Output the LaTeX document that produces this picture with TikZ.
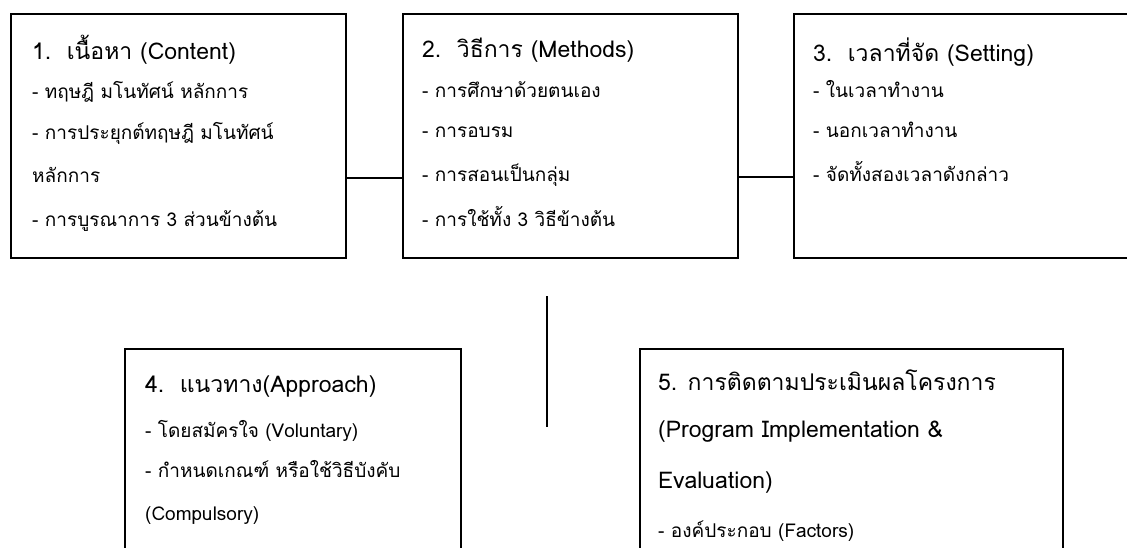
\documentclass[tikz,border=0pt]{standalone}
\usepackage{fontspec}
\newfontfamily\thaifont[Script=Thai]{Loma}
\begin{document}
\begin{tikzpicture}[x=1pt,y=-1pt,
  frame/.style={draw, line width=2pt, rectangle, anchor=north west, inner sep=0pt},
  head/.style={anchor=base west, inner sep=0pt, font=\thaifont\fontsize{23}{28}\selectfont},
  item/.style={anchor=base west, inner sep=0pt, font=\thaifont\fontsize{19}{24}\selectfont},
  link/.style={line width=2pt}]
\useasboundingbox (0,0) rectangle (1127,548);
\clip (0,0) rectangle (1127,548);
\fill[white] (0,0) rectangle (1127,548);

% frames
\node[frame, minimum width=335pt, minimum height=244pt] (b1) at (10,13) {};
\node[frame, minimum width=335pt, minimum height=244pt] (b2) at (402,13) {};
\node[frame, minimum width=360pt, minimum height=244pt] (b3) at (793,13) {};
\node[frame, minimum width=336pt, minimum height=250pt] (b4) at (124,348) {};
\node[frame, minimum width=423pt, minimum height=250pt] (b5) at (639,348) {};

% connectors
\draw[link] ([yshift=-42pt]b1.east) -- ([yshift=-42pt]b2.west);
\draw[link] ([yshift=-41pt]b2.east) -- ([yshift=-41pt]b3.west);
\coordinate (v1) at (547,296);
\coordinate (v2) at (547,427);
\draw[link] (v1) -- (v2);

% 1. content
\node[head] (t1) at (32,60) {1.\ \ เนื้อหา (Content)};
\node[item] (t1a) at (32,99) {- ทฤษฎี มโนทัศน์ หลักการ};
\node[item] (t1b) at (32,140) {- การประยุกต์ทฤษฎี มโนทัศน์};
\node[item] (t1c) at (32,183) {หลักการ};
\node[item] (t1d) at (32,227) {- การบูรณาการ 3 ส่วนข้างต้น};

% 2. methods
\node[head] (t2) at (422,58) {2.\ \ วิธีการ (Methods)};
\node[item] (t2a) at (422,98) {- การศึกษาด้วยตนเอง};
\node[item] (t2b) at (422,138) {- การอบรม};
\node[item] (t2c) at (422,182) {- การสอนเป็นกลุ่ม};
\node[item] (t2d) at (422,227) {- การใช้ทั้ง 3 วิธีข้างต้น};

% 3. setting
\node[head] (t3) at (813,62) {3.\ \ เวลาที่จัด (Setting)};
\node[item] (t3a) at (813,98) {- ในเวลาทำงาน};
\node[item] (t3b) at (813,138) {- นอกเวลาทำงาน};
\node[item] (t3c) at (813,182) {- จัดทั้งสองเวลาดังกล่าว};

% 4. approach
\node[head] (t4) at (145,392) {4.\ \ แนวทาง(Approach)};
\node[item] (t4a) at (145,437) {- โดยสมัครใจ (Voluntary)};
\node[item] (t4b) at (145,477) {- กำหนดเกณฑ์ หรือใช้วิธีบังคับ};
\node[item] (t4c) at (145,520) {(Compulsory)};

% 5. evaluation
\node[head] (t5) at (658,390) {5. การติดตามประเมินผลโครงการ};
\node[head] (t5a) at (658,437) {(Program Implementation \&};
\node[head] (t5b) at (658,488) {Evaluation)};
\node[item] (t5c) at (658,537) {- องค์ประกอบ (Factors)};
\end{tikzpicture}
\end{document}
